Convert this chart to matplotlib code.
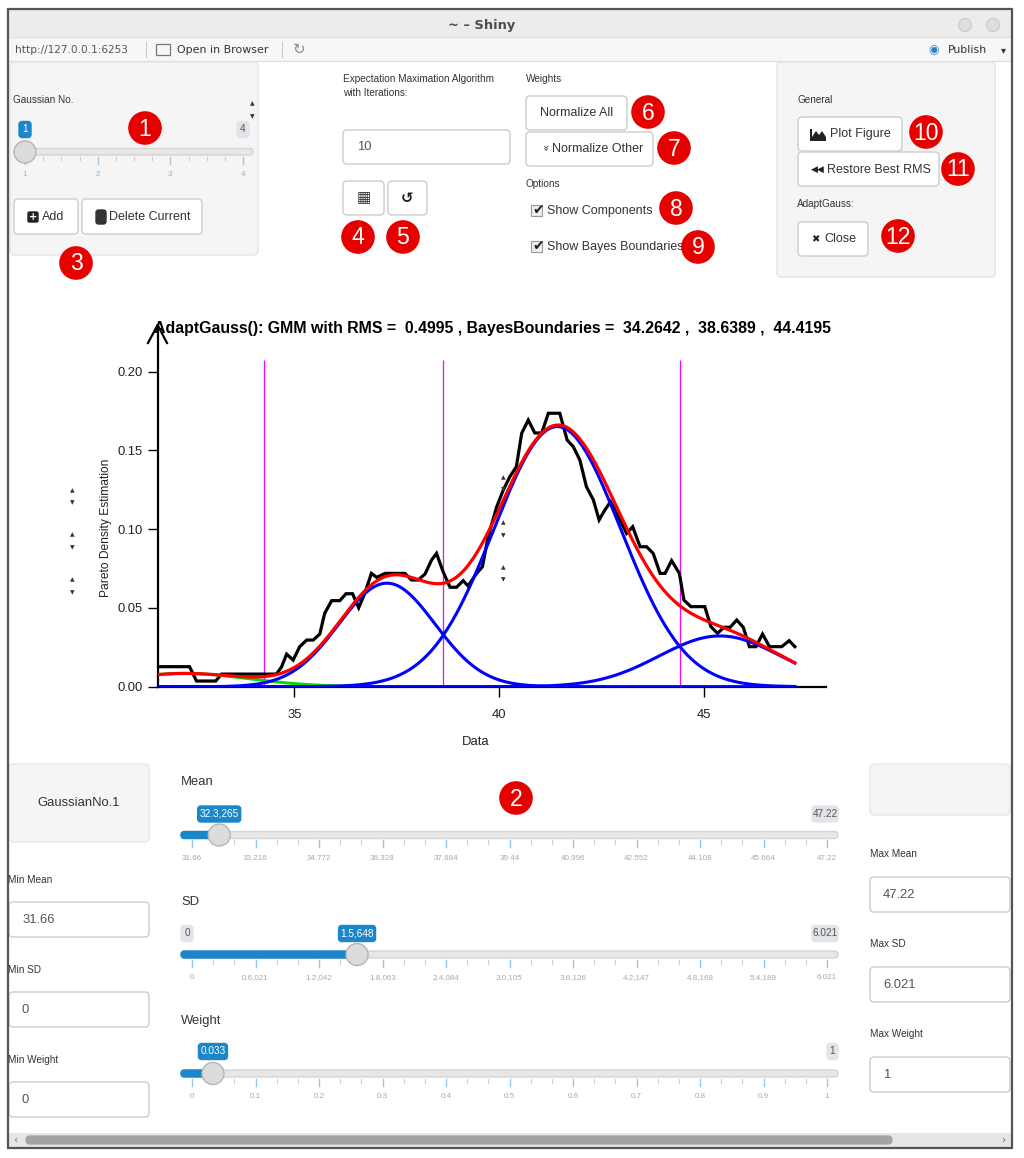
import matplotlib
matplotlib.use("Agg")
import matplotlib.pyplot as plt
import numpy as np
from matplotlib.patches import FancyBboxPatch, Circle, Rectangle, Polygon

# ---------------- data ----------------
pde_x = [31.66, 32.44, 32.61, 33.08, 33.22, 34.56, 34.69, 34.81, 34.97, 35.13,
         35.30, 35.46, 35.62, 35.74, 35.91, 36.11, 36.26, 36.42, 36.57, 36.72,
         36.88, 37.01, 37.21, 37.70, 37.86, 38.02, 38.19, 38.35, 38.47, 38.63,
         38.80, 38.96, 39.12, 39.24, 39.45, 39.59, 39.73, 39.94, 40.10, 40.26,
         40.42, 40.55, 40.71, 40.87, 41.04, 41.20, 41.48, 41.66, 41.81, 41.97,
         42.13, 42.30, 42.44, 42.58, 42.72, 42.91, 43.11, 43.26, 43.44, 43.60,
         43.76, 43.93, 44.05, 44.21, 44.40, 44.51, 44.68, 45.02, 45.17, 45.33,
         45.49, 45.64, 45.80, 45.96, 46.11, 46.27, 46.43, 46.60, 46.90, 47.08,
         47.22]
pde_y = [0.0127, 0.0127, 0.0036, 0.0036, 0.0080, 0.0080, 0.0127, 0.0207, 0.0169, 0.0254,
         0.0296, 0.0296, 0.0334, 0.0466, 0.0546, 0.0546, 0.0590, 0.0590, 0.0501, 0.0593,
         0.0719, 0.0694, 0.0719, 0.0719, 0.0677, 0.0677, 0.0715, 0.0804, 0.0846, 0.0730,
         0.0631, 0.0631, 0.0673, 0.0639, 0.0719, 0.0761, 0.0952, 0.1142, 0.1248, 0.1332,
         0.1396, 0.1608, 0.1692, 0.1610, 0.1610, 0.1735, 0.1735, 0.1565, 0.1523, 0.1438,
         0.1269, 0.1185, 0.1058, 0.1121, 0.1174, 0.1079, 0.0973, 0.1015, 0.0888, 0.0888,
         0.0846, 0.0719, 0.0719, 0.0800, 0.0719, 0.0550, 0.0508, 0.0508, 0.0381, 0.0339,
         0.0377, 0.0377, 0.0423, 0.0377, 0.0254, 0.0254, 0.0334, 0.0254, 0.0254, 0.0292,
         0.0254]

gmm_means = [32.3265, 37.26, 41.42, 45.39]
gmm_sds = [1.5648, 1.172, 1.547, 1.48]
gmm_weights = [0.033, 0.193, 0.640, 0.1195]
component_colors = ["#00dd00", "#0000ff", "#0000ff", "#0000ff"]
bayes_boundaries = [34.2642, 38.6389, 44.4195]
rms_value = 0.4995
x_ticks = [35, 40, 45]
y_ticks = [0.00, 0.05, 0.10, 0.15, 0.20]
data_min, data_max = 31.66, 47.22

gauss_no_labels = ["1", "2", "3", "4"]
gauss_no_value = 1
iterations = "10"
mean_tick_labels = ["31.66", "33.216", "34.772", "36.328", "37.884", "39.44",
                    "40.996", "42.552", "44.108", "45.664", "47.22"]
sd_tick_labels = ["0", "0.6,021", "1.2,042", "1.8,063", "2.4,084", "3.0,105",
                  "3.6,126", "4.2,147", "4.8,168", "5.4,189", "6.021"]
weight_tick_labels = ["0", "0.1", "0.2", "0.3", "0.4", "0.5", "0.6", "0.7", "0.8", "0.9", "1"]
mean_value, mean_min, mean_max = 32.3265, 31.66, 47.22
sd_value, sd_min, sd_max = 1.5648, 0.0, 6.021
weight_value, weight_min, weight_max = 0.033, 0.0, 1.0
mean_badge, sd_badge, weight_badge = "32.3,265", "1.5,648", "0.033"

# ---------------- figure ----------------
W, H = 1024, 1158
fig = plt.figure(figsize=(W / 100, H / 100), dpi=100)
fig.patch.set_facecolor("white")
UI = ["Liberation Sans", "DejaVu Sans"]
NARROW = ["Liberation Sans Narrow", "Liberation Sans", "DejaVu Sans"]
DV = ["DejaVu Sans"]


def pt(px):
    return px * 0.72


# ---------------- chart ----------------
L_px, R_px, B_px, T_px = 157.6, 826.0, 686.7, 325.0
x_right = 40 + (R_px - 499.3) / 40.94
y_top = (B_px - T_px) / 1576.0
ax = fig.add_axes([L_px / W, 1 - B_px / H, (R_px - L_px) / W, (B_px - T_px) / H])
ax.set_xlim(data_min, x_right)
ax.set_ylim(0, y_top)
ax.patch.set_alpha(0)
for s in ["top", "right"]:
    ax.spines[s].set_visible(False)
for s in ["left", "bottom"]:
    ax.spines[s].set_linewidth(1.6)
ax.set_xticks(x_ticks)
ax.set_xticklabels([str(v) for v in x_ticks])
ax.set_yticks(y_ticks)
ax.set_yticklabels(["%.2f" % v for v in y_ticks])
ax.tick_params(length=7, width=1.0, labelsize=pt(13), pad=4, labelcolor="#222222")
for lab in ax.get_xticklabels() + ax.get_yticklabels():
    lab.set_family(UI)
ax.tick_params(axis="x", pad=9)

xs = np.linspace(data_min, data_max, 600)
comps = []
for m, s, w in zip(gmm_means, gmm_sds, gmm_weights):
    comps.append(w / (s * np.sqrt(2 * np.pi)) * np.exp(-0.5 * ((xs - m) / s) ** 2))
total = np.sum(comps, axis=0)

ax.vlines(bayes_boundaries, 0, 0.2073, colors="#ff00ff", lw=0.9, zorder=2)
ax.plot(pde_x, pde_y, color="black", lw=2.3, zorder=3, solid_joinstyle="miter")
for c, col in zip(comps, component_colors):
    ax.plot(xs, c, color=col, lw=2.2, zorder=4)
ax.plot(xs, total, color="#ff0000", lw=2.3, zorder=5)

# ---------------- UI overlay (pixel coordinates) ----------------
ui = fig.add_axes([0, 0, 1, 1])
ui.set_xlim(0, W)
ui.set_ylim(H, 0)
ui.axis("off")
ui.patch.set_alpha(0)


def rbox(x0, y0, x1, y1, fc="white", ec="#cccccc", r=4, lw=1.0, z=1):
    p = FancyBboxPatch((x0, y0), x1 - x0, y1 - y0,
                       boxstyle="round,pad=0,rounding_size=%g" % r,
                       fc=fc, ec=ec, lw=lw, zorder=z)
    ui.add_patch(p)
    return p


def txt(x, y, s, px=12, color="#333333", ha="left", va="center", weight="normal", fam=UI, z=5, **kw):
    return ui.text(x, y, s, fontsize=pt(px), color=color, ha=ha, va=va,
                   fontweight=weight, family=fam, zorder=z, **kw)


def badge(x0, x1, yc, s, fc, tc):
    rbox(x0, yc - 8, x1, yc + 8, fc=fc, ec=fc, r=3, z=6)
    txt((x0 + x1) / 2, yc, s, px=10, color=tc, ha="center", z=7)


def redmark(x, y, s):
    ui.add_patch(Circle((x, y), 16.8, fc="#e60000", ec="none", zorder=8))
    txt(x, y + 1, s, px=23, color="white", ha="center", fam=NARROW if len(s) > 1 else UI, z=9)


# window frame
ui.add_patch(Rectangle((8, 9), 1004, 28, fc="#ececec", ec="none", zorder=0))
ui.add_patch(Rectangle((8, 37), 1004, 24, fc="#f7f7f7", ec="none", zorder=0))
ui.plot([8, 1012], [61, 61], color="#dddddd", lw=0.8, zorder=1)
ui.plot([8, 1012], [37, 37], color="#e2e2e2", lw=0.8, zorder=1)
ui.add_patch(Rectangle((8, 9), 1004, 1139, fc="none", ec="#555555", lw=1.6, zorder=10))
txt(482, 25, "~ – Shiny", px=13, color="#4d4d4d", ha="center", weight="bold", fam=DV)
for cx in (965, 993):
    ui.add_patch(Circle((cx, 25), 6.5, fc="#dedede", ec="#cccccc", lw=0.8, zorder=2))
txt(15, 50, "http://127.0.0.1:6253", px=10.5, color="#555555", fam=DV)
for sx in (146, 282):
    ui.plot([sx, sx], [42, 57], color="#cccccc", lw=0.8, zorder=2)
ui.add_patch(Rectangle((156, 44), 14, 11, fc="none", ec="#777777", lw=0.9, zorder=2))
txt(177, 50, "Open in Browser", px=11, color="#333333", fam=DV)
txt(299, 49, "↻", px=15, color="#888888", ha="center", fam=DV)
txt(934, 50, "◉", px=12, color="#2f7cc7", ha="center", fam=DV)
txt(948, 50, "Publish", px=11, color="#333333", fam=DV)
txt(1003, 50, "▾", px=10, color="#333333", ha="center", fam=DV)

# left panel
rbox(10, 62, 258, 255, fc="#f5f5f5", ec="#e3e3e3", r=4)
txt(13, 100, "Gaussian No.", px=10)
txt(252, 104, "▲", px=6, ha="center", fam=DV, z=12)
txt(252, 117, "▼", px=6, ha="center", fam=DV, z=12)
g0, g1 = 25, 243
rbox(17, 148.5, 253, 155, fc="#e7e7e7", ec="#d4d4d4", r=3, z=2)
n_g = len(gauss_no_labels)
for i, lab in enumerate(gauss_no_labels):
    gx = g0 + i * (g1 - g0) / (n_g - 1)
    ui.plot([gx, gx], [157, 164], color="#9ec5e3", lw=1.0, zorder=3)
    txt(gx, 174, lab, px=8, color="#a9a9a9", ha="center")
    if i < n_g - 1:
        for k in range(1, 4):
            mx = gx + k * (g1 - g0) / (n_g - 1) / 4
            ui.plot([mx, mx], [157, 160], color="#cfcfcf", lw=0.8, zorder=3)
gh = g0 + (gauss_no_value - 1) * (g1 - g0) / (n_g - 1)
badge(gh - 6, gh + 6, 129.5, gauss_no_labels[0], "#1b87c9", "white")
badge(g1 - 6, g1 + 6, 129.5, gauss_no_labels[-1], "#e1e4e9", "#555555")
ui.add_patch(Circle((gh, 152), 11, fc="#dcdcdc", ec="#b5b5b5", lw=1.0, zorder=6))
rbox(14, 199, 78, 234)
rbox(28, 212, 38, 222, fc="#222222", ec="#222222", r=1.5, z=3)
txt(33, 217, "+", px=10, color="white", ha="center", weight="bold", fam=DV, z=4)
txt(42, 217, "Add", px=12.5)
rbox(82, 199, 202, 234)
rbox(96, 210, 106, 224, fc="#333333", ec="#333333", r=2.5, z=3)
txt(109, 217, "Delete Current", px=12.5)

# middle
txt(343, 79, "Expectation Maximation Algorithm", px=10)
txt(343, 93, "with Iterations:", px=10)
rbox(343, 130, 510, 164)
txt(357, 147, iterations, px=13, color="#555555")
rbox(343, 181, 384, 215)
txt(363.5, 198, "▦", px=15, color="#333333", ha="center", fam=DV)
rbox(388, 181, 427, 215)
txt(407.5, 198, "↺", px=15, color="#222222", ha="center", weight="bold", fam=DV)
txt(526, 79, "Weights", px=10)
rbox(526, 96, 627, 130)
txt(576.5, 113, "Normalize All", px=12.5, ha="center")
rbox(526, 132, 653, 166)
txt(544, 148, "»", px=11, ha="center", rotation=-90, fam=DV)
txt(552, 149, "Normalize Other", px=12.5)
txt(526, 184, "Options", px=10)
for yy, lab in ((211, "Show Components"), (247, "Show Bayes Boundaries")):
    ui.add_patch(Rectangle((531, yy - 6), 11, 11, fc="#eeeeee", ec="#9a9a9a", lw=0.8, zorder=3))
    txt(538, yy - 1, "✔", px=14, color="#222222", ha="center", fam=DV, z=6)
    txt(547, yy, lab, px=12.5)

# right panel
rbox(777, 62, 995, 277, fc="#f5f5f5", ec="#e3e3e3", r=4)
txt(797, 100, "General", px=10)
rbox(798, 117, 902, 151)
ui.add_patch(Polygon([(810, 141), (810, 129), (812, 129), (812, 137), (816, 131), (819, 135),
                      (822, 131), (826, 137), (826, 141)], closed=True, fc="#222222", ec="none", zorder=3))
txt(830, 134, "Plot Figure", px=12.5)
rbox(798, 152, 939, 186)
txt(818, 169, "◀◀", px=9, color="#222222", ha="center", fam=DV)
txt(827, 170, "Restore Best RMS", px=12.5)
txt(797, 204, "AdaptGauss:", px=10)
rbox(798, 222, 868, 256)
txt(815, 239, "✖", px=10, color="#222222", ha="center", fam=DV)
txt(824, 239, "Close", px=12.5)

# chart texts / decorations
ui.plot([148, 157.6, 167], [343, 325, 343], color="black", lw=1.6, zorder=6)
title = ui.text(492, 328, "AdaptGauss(): GMM with RMS =  %.4f , BayesBoundaries =  %s ,  %s ,  %s"
                % (rms_value, "%.4f" % bayes_boundaries[0], "%.4f" % bayes_boundaries[1],
                   "%.4f" % bayes_boundaries[2]),
                fontsize=pt(14), fontweight="bold", family=UI, ha="center", va="center", zorder=7)
txt(476, 742, "Data", px=13, color="#222222", ha="center")
txt(106, 528, "Pareto Density Estimation", px=12, color="#222222", ha="center", rotation=90)
for sx, ys in ((72, (490.5, 503, 535, 548, 579.5, 592.5)), (503, (477.5, 490, 523, 535.5, 567.5, 580))):
    for j, yy in enumerate(ys):
        txt(sx, yy, "▲" if j % 2 == 0 else "▼", px=6, ha="center", fam=DV, z=12)

# bottom part
rbox(9, 764, 149, 842, fc="#f5f5f5", ec="#e8e8e8", r=4)
txt(79, 803, "GaussianNo.1", px=13, ha="center")
rbox(870, 764, 1010, 815, fc="#f5f5f5", ec="#e8e8e8", r=4)
for (ly, lab, by, val) in ((880, "Min Mean", 902, "31.66"), (970, "Min SD", 992, "0"),
                           (1060, "Min Weight", 1082, "0")):
    txt(8, ly, lab, px=10)
    rbox(9, by, 149, by + 35)
    txt(22, by + 18, val, px=13, color="#555555")
for (ly, lab, by, val) in ((854, "Max Mean", 877, "47.22"), (944, "Max SD", 967, "6.021"),
                           (1034, "Max Weight", 1057, "1")):
    txt(870, ly, lab, px=10)
    rbox(870, by, 1010, by + 35)
    txt(883, by + 18, val, px=13, color="#555555")


def slider(label, label_y, badge_y, track_y, labels, vmin, vmax, value, vbadge, vbadge_w,
           show_min):
    x0, x1 = 192, 827
    txt(181, label_y, label, px=13)
    rbox(181, track_y - 3.5, 838, track_y + 3.5, fc="#e7e7e7", ec="#d4d4d4", r=3.5, z=2)
    hx = x0 + (value - vmin) / (vmax - vmin) * (x1 - x0)
    rbox(181, track_y - 3.5, hx, track_y + 3.5, fc="#1b87c9", ec="#1b87c9", r=3.5, z=3)
    n = len(labels)
    for i, lab in enumerate(labels):
        gx = x0 + i * (x1 - x0) / (n - 1)
        ui.plot([gx, gx], [track_y + 5, track_y + 12], color="#9ec5e3", lw=1.0, zorder=3)
        txt(gx, track_y + 23, lab, px=8, color="#a9a9a9", ha="center")
        if i < n - 1:
            for k in (1, 2):
                mx = gx + k * (x1 - x0) / (n - 1) / 3
                ui.plot([mx, mx], [track_y + 5, track_y + 9], color="#cfcfcf", lw=0.8, zorder=3)
    if show_min:
        badge(181, 193, badge_y, labels[0], "#e1e4e9", "#555555")
    mw = 26 if len(labels[-1]) > 2 else 11
    badge(838 - mw, 838, badge_y, labels[-1], "#e1e4e9", "#555555")
    badge(hx - vbadge_w / 2, hx + vbadge_w / 2, badge_y, vbadge, "#1b87c9", "white")
    ui.add_patch(Circle((hx, track_y), 11, fc="#dcdcdc", ec="#b5b5b5", lw=1.0, zorder=6))


slider("Mean", 782, 814, 835, mean_tick_labels, mean_min, mean_max, mean_value, mean_badge, 43, False)
slider("SD", 902, 933.5, 954.5, sd_tick_labels, sd_min, sd_max, sd_value, sd_badge, 37, True)
slider("Weight", 1021, 1051.5, 1073.5, weight_tick_labels, weight_min, weight_max, weight_value,
       weight_badge, 29, False)

# scrollbar
ui.add_patch(Rectangle((9, 1133), 1002, 14, fc="#e6e6e6", ec="none", zorder=2))
rbox(26, 1136, 892, 1144, fc="#a3a3a3", ec="#a3a3a3", r=4, z=3)
txt(15, 1140, "‹", px=11, color="#777777", ha="center", fam=DV)
txt(1004, 1140, "›", px=11, color="#777777", ha="center", fam=DV)

# red numbered markers
for (mx, my, s) in ((145, 128, "1"), (516, 798, "2"), (76, 263, "3"), (358, 237, "4"),
                    (403, 237, "5"), (648, 112, "6"), (674, 148, "7"), (676, 208, "8"),
                    (698, 247, "9"), (926, 132, "10"), (958, 169, "11"), (898, 236, "12")):
    redmark(mx, my, s)

# fit title width to the picture (about 680 px)
fig.canvas.draw()
bb = title.get_window_extent()
title.set_fontsize(title.get_fontsize() * 680.0 / bb.width)

fig.savefig("out.png", dpi=100)
